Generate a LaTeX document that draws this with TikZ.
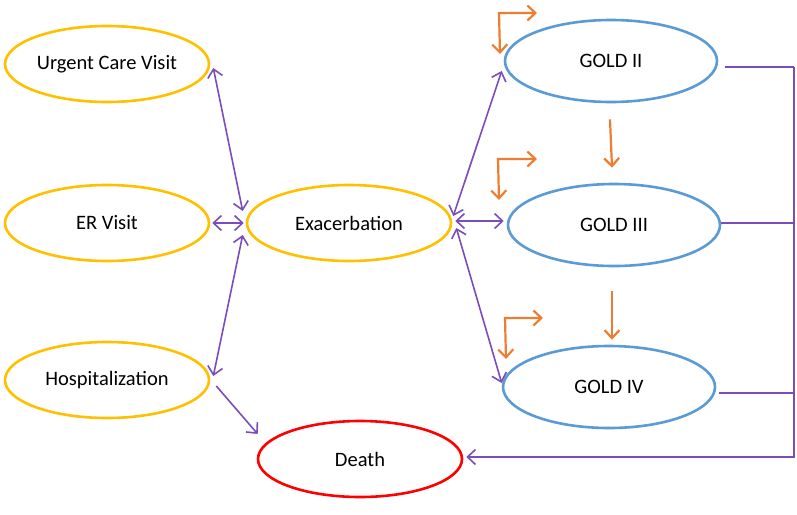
\documentclass[tikz,border=0pt]{standalone}
\usepackage{fontspec}
\setmainfont{Carlito}
\usetikzlibrary{shapes.geometric,arrows.meta}

\definecolor{visitorange}{HTML}{FFC000}
\definecolor{goldblue}{HTML}{5B9BD5}
\definecolor{deathred}{HTML}{FF0000}
\definecolor{linkpurple}{HTML}{7A4DB8}
\definecolor{stayorange}{HTML}{ED7D31}

\begin{document}
\begin{tikzpicture}[x=1pt,y=-1pt,>={Straight Barb[length=8pt,width=15pt]}]
  \tikzset{
    state/.style={ellipse, draw=#1, line width=2.6pt, fill=white, inner sep=0pt,
      font=\fontsize{20.5}{22}\selectfont, minimum width=204pt, minimum height=76pt},
    gold/.style={state=goldblue, minimum width=212pt, minimum height=82pt},
    link/.style={draw=linkpurple, line width=1.6pt},
    stay/.style={draw=stayorange, line width=2.2pt}
  }
  \useasboundingbox (0,0) rectangle (797,514);

  \node[state=visitorange] (urgent) at (107,64) {Urgent Care Visit};
  \node[state=visitorange] (er) at (107,223) {ER Visit};
  \node[state=visitorange] (hosp) at (107,380) {Hospitalization};
  \node[state=visitorange] (exac) at (349,223) {Exacerbation};
  \node[state=deathred] (death) at (360,459) {Death};

  \node[gold] (gold2) at (611,61) {GOLD II};
  \node[gold] (gold3) at (614,225) {GOLD III};
  \node[gold] (gold4) at (609,387) {GOLD IV};

  % visits and exacerbation
  \draw[link,<->] ([shift={(3,4)}]urgent.east) -- ([shift={(-3,-12)}]exac.west);
  \draw[link,<->] ([shift={(2,0)}]er.east) -- ([shift={(-2,0)}]exac.west);
  \draw[link,<->] ([shift={(3,-4)}]hosp.east) -- ([shift={(-3,12)}]exac.west);
  \draw[link,->] ([shift={(6,6)}]hosp.east) -- ([shift={(1,-25)}]death.west);

  % exacerbation and GOLD stages
  \draw[link,<->] ([shift={(1,-7)}]exac.east) -- ([shift={(-2,10)}]gold2.west);
  \draw[link,<->] ([shift={(3,-2)}]exac.east) -- ([shift={(-3,-4)}]gold3.west);
  \draw[link,<->] ([shift={(4,5)}]exac.east) -- ([shift={(0,-4)}]gold4.west);

  % worsening
  \draw[stay,->] ([shift={(-1,16)}]gold2.south) -- ([shift={(-2,-15)}]gold3.north);
  \draw[stay,->] ([shift={(-2,24)}]gold3.south) -- ([shift={(3,-5)}]gold4.north);

  % staying in stage
  \coordinate (s2) at (499,13);
  \coordinate (s3) at (498,159);
  \coordinate (s4) at (505,318);
  \draw[stay,<->] ([shift={(38,0)}]s2) -- (s2) -- ([shift={(1,41)}]s2);
  \draw[stay,<->] ([shift={(39,0)}]s3) -- (s3) -- ([shift={(1,41)}]s3);
  \draw[stay,<->] ([shift={(38,0)}]s4) -- (s4) -- ([shift={(1,41)}]s4);

  % GOLD stages to death
  \coordinate (b2) at ([shift={(7,6)}]gold2.east);
  \coordinate (b3) at ([shift={(0,-2)}]gold3.east);
  \coordinate (b4) at ([shift={(3,6)}]gold4.east);
  \coordinate (top) at (794,67);
  \coordinate (corner) at (794,457);
  \draw[link] (b2) -- (top);
  \draw[link] (b3) -- (top |- b3);
  \draw[link] (b4) -- (top |- b4);
  \draw[link,->] (top) -- (corner) -- ([shift={(3,-2)}]death.east);
\end{tikzpicture}
\end{document}
